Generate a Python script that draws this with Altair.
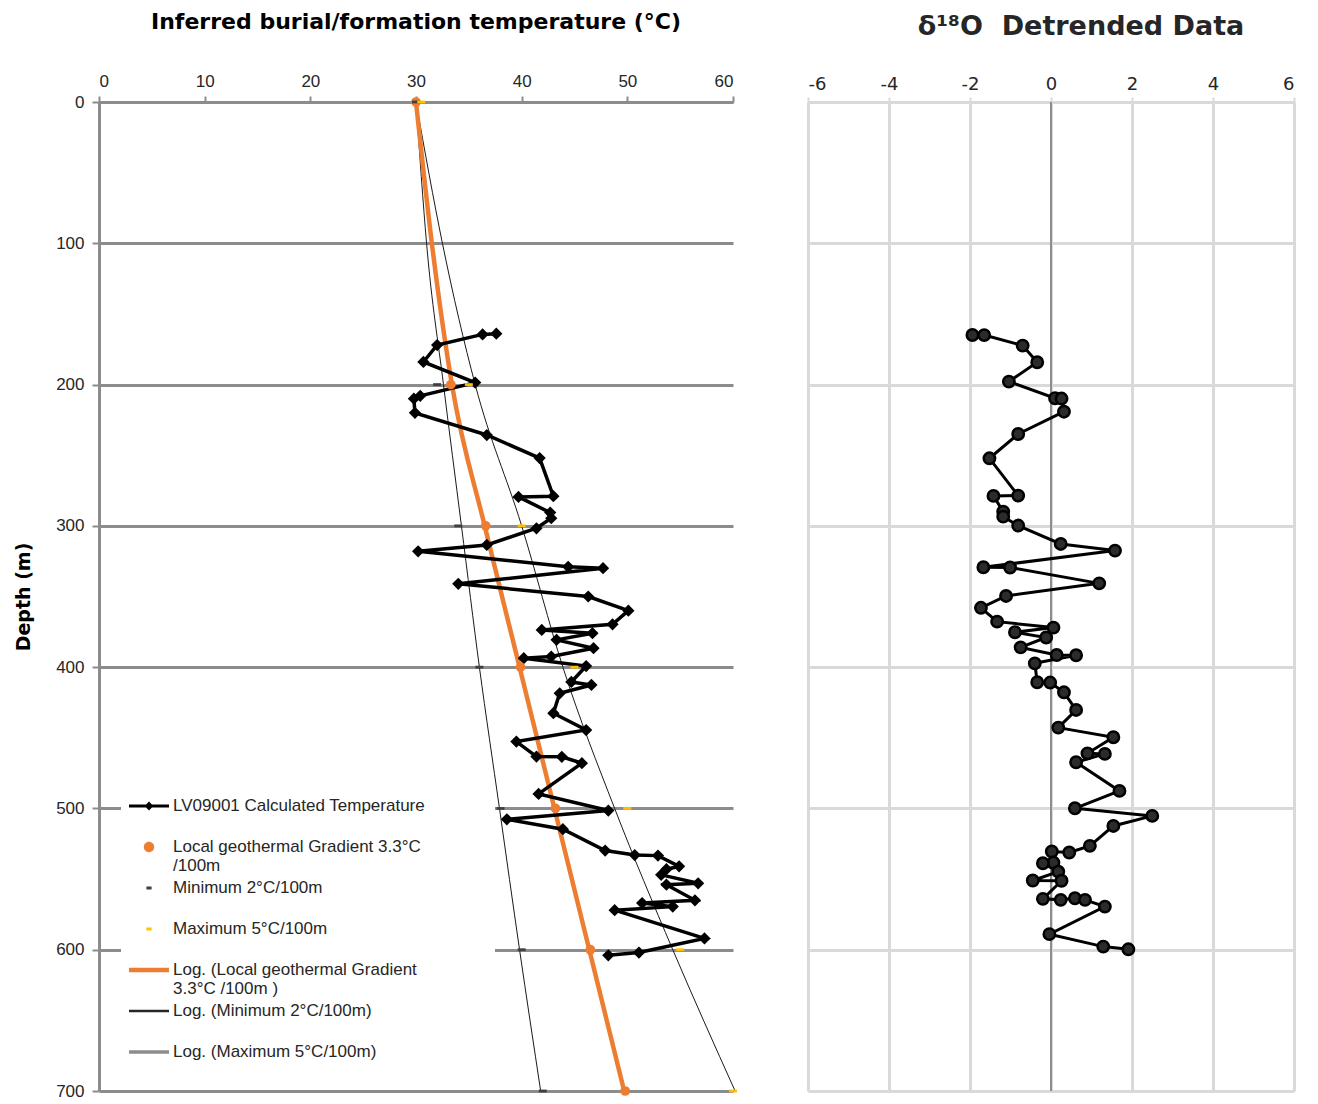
import altair as alt
import pandas as pd

# ---------------- Panel A: inferred burial/formation temperature ----------------
temp_depth = [164, 164.5, 172, 184, 198.6, 208, 210, 220, 235.7, 252,
              279, 279.5, 290.6, 294.6, 301.7, 313.5, 318, 329, 330, 341,
              350, 360, 369.7, 373.7, 376, 380.7, 386.6, 392.5, 393.7, 399.2,
              410.5, 412.6, 418.5, 432.6, 444.5, 452.7, 463.3, 463.5, 468, 489.7,
              501.5, 507.7, 514.7, 529.8, 533, 533.4, 541, 543, 547, 553,
              554, 565, 567, 569.5, 572, 592, 602, 604]
temp_vals = [37.6, 36.3, 32.0, 30.7, 35.6, 30.4, 29.8, 29.9, 36.7, 41.7,
             43.0, 39.7, 42.7, 42.8, 41.4, 36.7, 30.2, 44.4, 47.7, 34.0,
             46.3, 50.1, 48.6, 41.9, 46.7, 43.3, 46.8, 42.8, 40.2, 46.1,
             44.7, 46.6, 43.6, 43.0, 46.1, 39.5, 41.4, 43.8, 45.7, 41.6,
             48.2, 38.6, 43.9, 47.9, 50.7, 52.9, 54.9, 53.7, 53.2, 56.7,
             53.7, 56.4, 51.4, 54.3, 48.8, 57.3, 51.1, 48.2]

grad_depth = [0, 200, 300, 400, 500, 600, 700]
local_vals = [30, 33.3, 36.6, 39.9, 43.2, 46.5, 49.8]
min_vals = [30, 32, 34, 36, 38, 40, 42]
max_vals = [30.5, 35, 40, 45, 50, 55, 60]

trend_depth = [0, 100, 200, 300, 400, 500, 600, 700]
local_trend = [30, 31.5, 33.4, 36.5, 39.8, 43.1, 46.4, 49.7]
min_trend = [30, 31.0, 32.6, 34.3, 36.0, 37.9, 39.8, 41.8]
max_trend = [30, 32.5, 35.6, 40.0, 43.9, 48.8, 54.3, 60.2]

# ---------------- Panel B: d18O detrended ----------------
iso_depth = [164.9, 165, 172.4, 184.2, 197.9, 209.7, 209.9, 219.2, 235, 252.2,
             278.6, 278.8, 290, 293.5, 299.8, 312.8, 317.5, 329.3, 329.5, 340.7,
             349.6, 358, 367.8, 372, 375.3, 379, 386, 391.4, 391.6, 397.3,
             410.7, 410.9, 417.8, 430.3, 442.8, 449.6, 461, 461.4, 467.3, 487.6,
             499.9, 505.3, 512.4, 526.5, 531.2, 530.5, 538.3, 538.8, 544.7, 551,
             551.2, 564, 564.7, 563.6, 564.7, 569.5, 589, 597.8, 599.7]
iso_vals = [-1.94, -1.65, -0.70, -0.34, -1.04, 0.10, 0.26, 0.32, -0.81, -1.52,
            -0.81, -1.42, -1.18, -1.18, -0.81, 0.24, 1.58, -1.67, -1.01, 1.19,
            -1.11, -1.73, -1.33, 0.06, -0.89, -0.12, -0.75, 0.14, 0.62, -0.40,
            -0.34, -0.02, 0.32, 0.62, 0.18, 1.54, 0.90, 1.33, 0.62, 1.69,
            0.59, 2.50, 1.54, 0.96, 0.45, 0.02, 0.06, -0.20, 0.18, -0.45,
            0.26, -0.20, 0.24, 0.59, 0.84, 1.33, -0.04, 1.29, 1.91]

# ---------------- Legend ----------------
legend_labels = [
    "LV09001 Calculated Temperature",
    "Local geothermal Gradient 3.3°C|/100m",
    "Minimum 2°C/100m",
    "Maximum 5°C/100m",
    "Log. (Local geothermal Gradient|3.3°C /100m )",
    "Log. (Minimum 2°C/100m)",
    "Log. (Maximum 5°C/100m)",
]
legend_colors = ["#000000", "#ED7D31", "#404040", "#FFC000", "#ED7D31", "#262626", "#8C8C8C"]
# invisible move-to points give every legend entry the same box (equal row spacing, wide white box)
_box = " M0,0 M28.1,2.4"
legend_shapes = [
    "M-1.667,-0.125H1.667V0.125H-1.667Z M-0.367,0L0,-0.367L0.367,0L0,0.367Z" + _box,
    "M-0.433,0A0.433,0.433,0,1,1,0.433,0A0.433,0.433,0,1,1,-0.433,0Z" + _box,
    "M-0.217,-0.117H0.217V0.117H-0.217Z" + _box,
    "M-0.217,-0.117H0.217V0.117H-0.217Z" + _box,
    "M-1.667,-0.183H1.667V0.183H-1.667Z" + _box,
    "M-1.667,-0.1H1.667V0.1H-1.667Z" + _box,
    "M-1.667,-0.142H1.667V0.142H-1.667Z" + _box,
]

temp_df = pd.DataFrame({"idx": range(len(temp_depth)), "depth": temp_depth, "temp": temp_vals})
local_df = pd.DataFrame({"depth": grad_depth, "temp": local_vals})
min_df = pd.DataFrame({"depth": grad_depth, "temp": min_vals})
max_df = pd.DataFrame({"depth": grad_depth, "temp": max_vals})
ltrend_df = pd.DataFrame({"depth": trend_depth, "temp": local_trend})
mintrend_df = pd.DataFrame({"depth": trend_depth, "temp": min_trend})
maxtrend_df = pd.DataFrame({"depth": trend_depth, "temp": max_trend})
iso_df = pd.DataFrame({"idx": range(len(iso_depth)), "depth": iso_depth, "iso": iso_vals})
legend_df = pd.DataFrame({"series": legend_labels})

GRID_A = "#8C8C8C"
GRID_B = "#D9D9D9"

xA = alt.X("temp:Q",
           scale=alt.Scale(domain=[0, 60], nice=False, zero=False),
           axis=alt.Axis(orient="top", values=list(range(0, 61, 10)), title=None,
                         labelFont="Liberation Sans", labelFontSize=17, labelColor="#262626",
                         domainColor=GRID_A, domainWidth=3, tickColor=GRID_A, tickWidth=2,
                         tickSize=6, labelPadding=6, grid=False))
yA = alt.Y("depth:Q",
           scale=alt.Scale(domain=[0, 700], reverse=True, nice=False, zero=False),
           axis=alt.Axis(values=list(range(0, 701, 100)), title="Depth (m)",
                         titleFont="DejaVu Sans", titleFontSize=19, titleFontWeight="bold",
                         titleColor="#000000", titlePadding=22,
                         labelFont="Liberation Sans", labelFontSize=17, labelColor="#262626",
                         domainColor=GRID_A, domainWidth=3, tickColor=GRID_A, tickWidth=2,
                         tickSize=7, labelPadding=8,
                         grid=True, gridColor=GRID_A, gridWidth=3))

base_temp = alt.Chart(temp_df)
mintrend = alt.Chart(mintrend_df).mark_line(color="#1A1A1A", strokeWidth=1, interpolate="monotone").encode(
    x=xA, y=yA, order="depth:Q")
maxtrend = alt.Chart(maxtrend_df).mark_line(color="#1A1A1A", strokeWidth=1, interpolate="monotone").encode(
    x="temp:Q", y="depth:Q", order="depth:Q")
ltrend = alt.Chart(ltrend_df).mark_line(color="#ED7D31", strokeWidth=4.5, interpolate="monotone").encode(
    x="temp:Q", y="depth:Q", order="depth:Q")
temp_line = base_temp.mark_line(color="black", strokeWidth=3.5).encode(
    x="temp:Q", y="depth:Q", order="idx:Q")
temp_pts = base_temp.mark_point(shape="diamond", filled=True, size=150, color="black", opacity=1).encode(
    x="temp:Q", y="depth:Q")
local_pts = alt.Chart(local_df).mark_circle(size=95, color="#ED7D31", opacity=1).encode(
    x="temp:Q", y="depth:Q")
min_pts = alt.Chart(min_df).mark_point(shape="M-1,-0.35H1V0.35H-1Z", filled=True, size=64,
                                       color="#404040", opacity=1).encode(x="temp:Q", y="depth:Q")
max_pts = alt.Chart(max_df).mark_point(shape="M-1,-0.35H1V0.35H-1Z", filled=True, size=64,
                                       color="#FFC000", opacity=1).encode(x="temp:Q", y="depth:Q")

leg = alt.Legend(title=None, orient="none", legendX=22, legendY=684, fillColor="white",
                 padding=8, symbolSize=576, symbolStrokeWidth=0, symbolOffset=8,
                 labelFont="Liberation Sans", labelFontSize=17, labelColor="#262626",
                 labelLimit=600, labelOffset=12, rowPadding=0,
                 labelExpr="split(datum.label, '|')")
legend_layer = alt.Chart(legend_df).transform_filter("false").mark_point(
    filled=True, opacity=1, size=576, strokeWidth=0).encode(
    x="temp:Q", y="depth:Q",
    color=alt.Color("series:N", scale=alt.Scale(domain=legend_labels, range=legend_colors), legend=leg),
    shape=alt.Shape("series:N", scale=alt.Scale(domain=legend_labels, range=legend_shapes), legend=leg),
)

panelA = alt.layer(mintrend, maxtrend, ltrend, temp_line, temp_pts, local_pts, min_pts, max_pts,
                   legend_layer).properties(
    width=634, height=989,
    title=alt.TitleParams("Inferred burial/formation temperature (°C)", font="DejaVu Sans",
                          fontSize=22, fontWeight="bold", color="#000000", anchor="middle",
                          offset=38))

xB = alt.X("iso:Q",
           scale=alt.Scale(domain=[-6, 6], nice=False, zero=False),
           axis=alt.Axis(orient="top", values=list(range(-6, 7, 2)), title=None,
                         labelExpr="'' + datum.value",
                         labelFont="DejaVu Sans", labelFontSize=18, labelColor="#262626",
                         domainColor=GRID_B, domainWidth=3, tickColor=GRID_B, tickWidth=2,
                         tickSize=5, labelPadding=4,
                         grid=True, gridColor=GRID_B, gridWidth=3))
yB = alt.Y("depth:Q",
           scale=alt.Scale(domain=[0, 700], reverse=True, nice=False, zero=False),
           axis=alt.Axis(values=list(range(0, 701, 100)), title=None, labels=False, ticks=False,
                         domain=False, grid=True, gridColor=GRID_B, gridWidth=3))

zero_rule = alt.Chart(pd.DataFrame({"iso": [0]})).mark_rule(color="#595959", strokeWidth=1.2).encode(
    x=xB)
iso_line = alt.Chart(iso_df).mark_line(color="black", strokeWidth=3).encode(
    x="iso:Q", y=yB, order="idx:Q")
iso_pts = alt.Chart(iso_df).mark_point(shape="circle", filled=True, size=130, fill="#2B2B2B",
                                       stroke="black", strokeWidth=2.5, opacity=1).encode(
    x="iso:Q", y="depth:Q")

panelB = alt.layer(zero_rule, iso_line, iso_pts).properties(
    width=486, height=989,
    title=alt.TitleParams("δ¹⁸O\u00a0\u00a0Detrended Data", font="DejaVu Sans", fontSize=27,
                          fontWeight="bold", color="#262626", anchor="middle", dx=30,
                          offset=34))

chart = alt.hconcat(panelA, panelB, spacing=75, bounds="flush").resolve_scale(
    color="independent", shape="independent").properties(
    padding={"left": 14, "top": 11, "right": 5, "bottom": 5}).configure_view(stroke=None)

chart.save("out.html", embed_options={"renderer": "svg", "actions": False})
